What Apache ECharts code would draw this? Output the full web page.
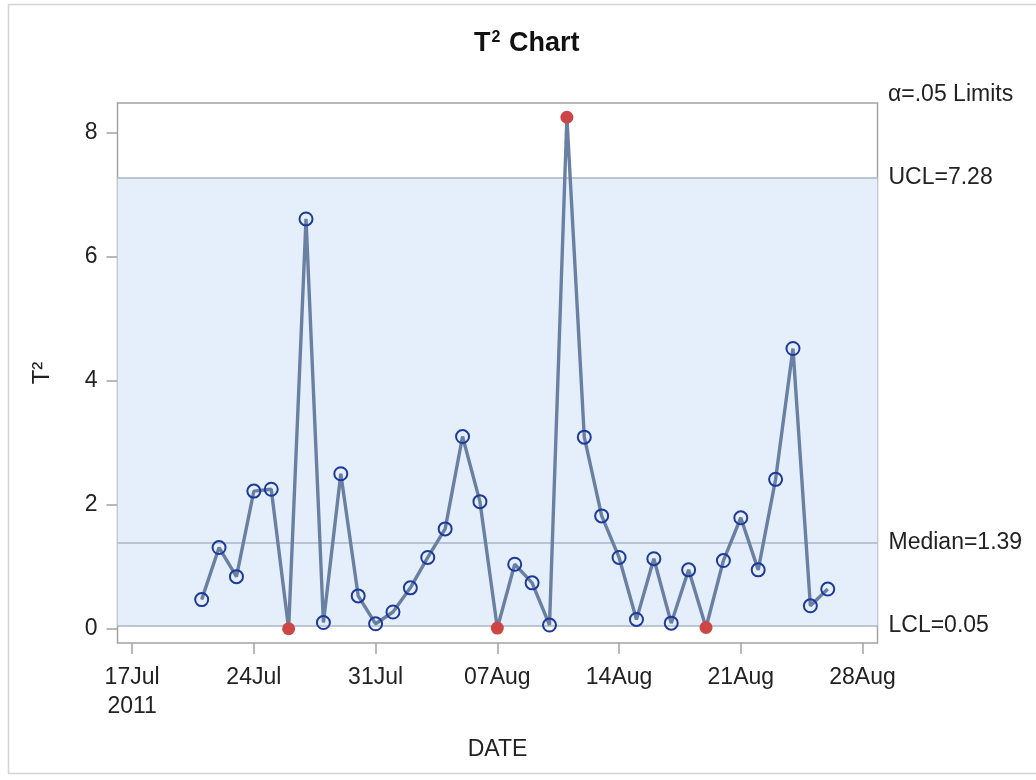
<!DOCTYPE html>
<html>
<head>
<meta charset="utf-8">
<script src="https://cdn.jsdelivr.net/npm/echarts@6/dist/echarts.min.js"></script>
<style>
html,body{margin:0;padding:0;background:#fff;}
#chart{width:1036px;height:780px;}
</style>
</head>
<body>
<div id="chart"></div>
<script>
// ---- data ----
const dates = [
  '2011-07-21','2011-07-22','2011-07-23','2011-07-24','2011-07-25','2011-07-26','2011-07-27',
  '2011-07-28','2011-07-29','2011-07-30','2011-07-31','2011-08-01','2011-08-02','2011-08-03',
  '2011-08-04','2011-08-05','2011-08-06','2011-08-07','2011-08-08','2011-08-09','2011-08-10',
  '2011-08-11','2011-08-12','2011-08-13','2011-08-14','2011-08-15','2011-08-16','2011-08-17',
  '2011-08-18','2011-08-19','2011-08-20','2011-08-21','2011-08-22','2011-08-23','2011-08-24',
  '2011-08-25','2011-08-26'
];
const t2Values = [
  0.47, 1.31, 0.84, 2.22, 2.25, 0.00, 6.61,
  0.10, 2.50, 0.53, 0.08, 0.27, 0.66, 1.15,
  1.61, 3.10, 2.05, 0.01, 1.04, 0.74, 0.06,
  8.25, 3.09, 1.82, 1.15, 0.15, 1.13, 0.09,
  0.95, 0.02, 1.10, 1.79, 0.95, 2.41, 4.52,
  0.37, 0.64
];
const UCL = 7.28;
const MEDIAN = 1.39;
const LCL = 0.05;
const xTickDates = ['2011-07-17','2011-07-24','2011-07-31','2011-08-07','2011-08-14','2011-08-21','2011-08-28'];
const xTickLabels = ['17Jul\n2011','24Jul','31Jul','07Aug','14Aug','21Aug','28Aug'];
const yTicks = [0, 2, 4, 6, 8];

// ---- helpers ----
const ORIGIN = Date.parse(xTickDates[0]);
const dayOf = s => (Date.parse(s) - ORIGIN) / 86400000;
const xTickDays = xTickDates.map(dayOf);

const FONT = 'Liberation Sans, Arial, sans-serif';
const TXT = '#222';
const FRAME = '#a3a3a3';

const seriesData = dates.map((d, i) => {
  const v = t2Values[i];
  const out = v < LCL || v > UCL;
  return out ? {
    value: [dayOf(d), v],
    symbolSize: 13,
    itemStyle: { color: '#cc4646', borderWidth: 0 }
  } : { value: [dayOf(d), v] };
});

const chart = echarts.init(document.getElementById('chart'), null, { renderer: 'canvas' });
chart.setOption({
  animation: false,
  backgroundColor: '#fff',
  textStyle: { fontFamily: FONT },
  title: {
    text: '{t|T}{s|2}{t| Chart}',
    left: 469,
    top: 25,
    textStyle: {
      rich: {
        t: { fontFamily: FONT, fontSize: 27, fontWeight: 'bold', color: '#111' },
        s: { fontFamily: FONT, fontSize: 16, fontWeight: 'bold', color: '#111', verticalAlign: 'top', padding: [0, 1, 12, 1] }
      }
    }
  },
  graphic: [
    {
      type: 'rect', silent: true, z: -10,
      shape: { x: 8.5, y: 4.5, width: 1040, height: 769 },
      style: { fill: 'none', stroke: '#d4d4d4', lineWidth: 1.5 }
    },
    {
      type: 'text', left: 888, top: 83,
      style: { text: 'α=.05 Limits', fontFamily: FONT, fontSize: 23, fill: TXT }
    }
  ],
  grid: {
    left: 117.5, right: 158.5, top: 103, bottom: 137,
    show: true, borderColor: FRAME, borderWidth: 1.5, backgroundColor: 'transparent'
  },
  xAxis: {
    type: 'value',
    min: -0.84, max: 42.86,
    name: 'DATE',
    nameLocation: 'middle',
    nameGap: 95,
    nameTextStyle: { fontFamily: FONT, fontSize: 23, color: TXT },
    axisLine: { show: false, onZero: false },
    splitLine: { show: false },
    axisTick: { show: true, customValues: xTickDays, length: 11, lineStyle: { color: FRAME, width: 1.5 } },
    axisLabel: {
      customValues: xTickDays,
      margin: 20,
      fontFamily: FONT, fontSize: 23, color: TXT, lineHeight: 29,
      formatter: v => {
        const i = xTickDays.findIndex(d => Math.abs(d - v) < 1e-6);
        return i >= 0 ? xTickLabels[i] : '';
      }
    }
  },
  yAxis: {
    type: 'value',
    min: -0.23, max: 8.48,
    name: 'T²',
    nameLocation: 'middle',
    nameGap: 63,
    nameRotate: 90,
    nameTextStyle: { fontFamily: FONT, fontSize: 24, color: TXT },
    axisLine: { show: false, onZero: false },
    splitLine: { show: false },
    axisTick: { show: true, customValues: yTicks, length: 11, lineStyle: { color: FRAME, width: 1.5 } },
    axisLabel: { customValues: yTicks, margin: 20, fontFamily: FONT, fontSize: 23, color: TXT }
  },
  series: [{
    type: 'line',
    data: seriesData,
    symbol: 'circle',
    symbolSize: 13,
    itemStyle: { color: 'rgba(255,255,255,0)', borderColor: '#1d3a9a', borderWidth: 2 },
    lineStyle: { color: '#6a80a3', width: 3.4 },
    z: 5,
    markArea: {
      silent: true,
      itemStyle: { color: '#e5effc' },
      data: [[{ yAxis: LCL }, { yAxis: UCL }]]
    },
    markLine: {
      silent: true,
      symbol: 'none',
      lineStyle: { color: '#a8b5c6', type: 'solid', width: 1.5 },
      label: { position: 'end', distance: 11, fontFamily: FONT, fontSize: 23, color: TXT },
      data: [
        { yAxis: UCL, label: { formatter: 'UCL=' + UCL.toFixed(2) } },
        { yAxis: MEDIAN, label: { formatter: 'Median=' + MEDIAN.toFixed(2) } },
        { yAxis: LCL, label: { formatter: 'LCL=' + LCL.toFixed(2) } }
      ]
    }
  }]
});
</script>
</body>
</html>
